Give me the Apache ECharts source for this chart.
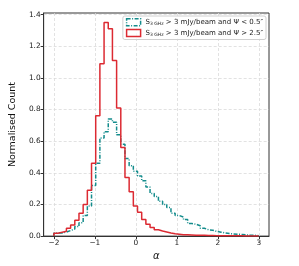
<!DOCTYPE html>
<html>
<head>
<meta charset="utf-8">
<script src="https://cdn.jsdelivr.net/npm/echarts@6/dist/echarts.min.js"></script>
<style>
html,body{margin:0;padding:0;background:#fff;}
#chart{width:299px;height:266px;}
</style>
</head>
<body>
<div id="chart"></div>
<script>
// Histogram bins: 49 equal bins spanning alpha = -2 .. 3
const binMin = -2;
const binMax = 3;
const binCount = 49;

// Normalised counts per bin
const psiSmall = [0.02, 0.02, 0.025, 0.035, 0.045, 0.06, 0.085, 0.13, 0.19, 0.32,
  0.46, 0.62, 0.66, 0.74, 0.72, 0.64, 0.58, 0.49, 0.445, 0.41,
  0.38, 0.35, 0.31, 0.27, 0.25, 0.22, 0.20, 0.18, 0.145, 0.13,
  0.12, 0.105, 0.08, 0.075, 0.065, 0.05, 0.04, 0.037, 0.03, 0.025,
  0.02, 0.016, 0.014, 0.012, 0.01, 0.008, 0.006, 0.005, 0.003];

const psiLarge = [0.018, 0.025, 0.03, 0.05, 0.07, 0.10, 0.145, 0.20, 0.29, 0.46,
  0.76, 1.09, 1.35, 1.31, 1.11, 0.81, 0.56, 0.37, 0.28, 0.19,
  0.15, 0.105, 0.075, 0.055, 0.04, 0.032, 0.026, 0.02, 0.015, 0.012,
  0.009, 0.008, 0.007, 0.006, 0.005, 0.005, 0.004, 0.004, 0.003, 0.003,
  0.003, 0.002, 0.002, 0.002, 0.002, 0.001, 0.001, 0.001, 0.001];

const xTicks = [-2, -1, 0, 1, 2, 3];
const yTicks = [0, 0.2, 0.4, 0.6, 0.8, 1.0, 1.2, 1.4];

const seriesNames = ['small', 'large'];

const binWidth = (binMax - binMin) / binCount;
const edges = [];
for (let i = 0; i <= binCount; i++) edges.push(binMin + i * binWidth);

function stepData(vals) {
  const d = [[edges[0], 0]];
  for (let i = 0; i < vals.length; i++) d.push([edges[i], vals[i]]);
  d.push([edges[vals.length], 0]);
  return d;
}

const teal = '#148c8c';
const red = '#dc2a32';
const font = 'DejaVu Sans';

function legendText(cmp, val) {
  return '{m|S}{s|3 GHz}{m| > 3 mJy/beam and Ψ ' + cmp + ' ' + val + '″}';
}

const chart = echarts.init(document.getElementById('chart'), null, {renderer: 'canvas'});
chart.setOption({
  animation: false,
  backgroundColor: '#fff',
  grid: {left: 37, top: 13, right: 30, bottom: 24, show: true, borderColor: '#333', borderWidth: 1, backgroundColor: 'transparent'},
  legend: {
    orient: 'vertical',
    right: 33,
    top: 16,
    padding: [2, 3, 2, 3],
    itemGap: 2,
    itemWidth: 14,
    itemHeight: 7,
    backgroundColor: 'rgba(255,255,255,0.8)',
    borderColor: '#d0d0d0',
    borderWidth: 1,
    borderRadius: 2,
    data: [
      {name: 'small', icon: 'rect', itemStyle: {color: 'rgba(0,0,0,0)', borderColor: teal, borderWidth: 1.5, borderType: [4, 1.5, 1, 1.5]}},
      {name: 'large', icon: 'rect', itemStyle: {color: 'rgba(0,0,0,0)', borderColor: red, borderWidth: 1.5, borderType: 'solid'}}
    ],
    formatter: function (name) {
      return name === 'small' ? legendText('<', '0.5') : legendText('>', '2.5');
    },
    textStyle: {
      fontFamily: font,
      color: '#222',
      rich: {
        m: {fontSize: 7, fontFamily: font, color: '#222', lineHeight: 9},
        s: {fontSize: 4.5, fontFamily: font, color: '#222', lineHeight: 9, verticalAlign: 'bottom', padding: [3, 0, 0, 0]}
      }
    }
  },
  xAxis: {
    type: 'value',
    min: -2.25,
    max: 3.25,
    name: 'α',
    nameLocation: 'middle',
    nameGap: 12,
    nameTextStyle: {fontFamily: font, fontSize: 10, fontStyle: 'italic', color: '#111'},
    axisLine: {show: true, onZero: false, lineStyle: {color: '#333', width: 1}},
    axisTick: {show: true, length: 3, lineStyle: {color: '#333'}, customValues: xTicks},
    axisLabel: {fontFamily: font, fontSize: 7.4, color: '#222', margin: 3, customValues: xTicks,
      formatter: v => (v < 0 ? '\u2212' + Math.abs(v) : String(v))},
    splitLine: {show: true, lineStyle: {color: '#dadada', type: [3, 2], width: 0.8}}
  },
  yAxis: {
    type: 'value',
    min: 0,
    max: 1.41,
    interval: 0.2,
    name: 'Normalised Count',
    nameLocation: 'middle',
    nameGap: 18,
    nameTextStyle: {fontFamily: font, fontSize: 9.5, color: '#111'},
    axisLine: {show: true, onZero: false, lineStyle: {color: '#333', width: 1}},
    axisTick: {show: true, length: 3, lineStyle: {color: '#333'}, customValues: yTicks},
    axisLabel: {fontFamily: font, fontSize: 7.4, color: '#222', margin: 3, customValues: yTicks,
      formatter: v => v.toFixed(1)},
    splitLine: {show: true, lineStyle: {color: '#dadada', type: [3, 2], width: 0.8}}
  },
  series: [
    {
      name: seriesNames[0],
      type: 'line',
      step: 'end',
      symbol: 'none',
      data: stepData(psiSmall),
      lineStyle: {color: teal, width: 1.5, type: [4, 1.5, 1, 1.5]},
      itemStyle: {color: teal},
      z: 2
    },
    {
      name: seriesNames[1],
      type: 'line',
      step: 'end',
      symbol: 'none',
      data: stepData(psiLarge),
      lineStyle: {color: red, width: 1.5},
      itemStyle: {color: red},
      z: 3
    }
  ]
});
</script>
</body>
</html>
